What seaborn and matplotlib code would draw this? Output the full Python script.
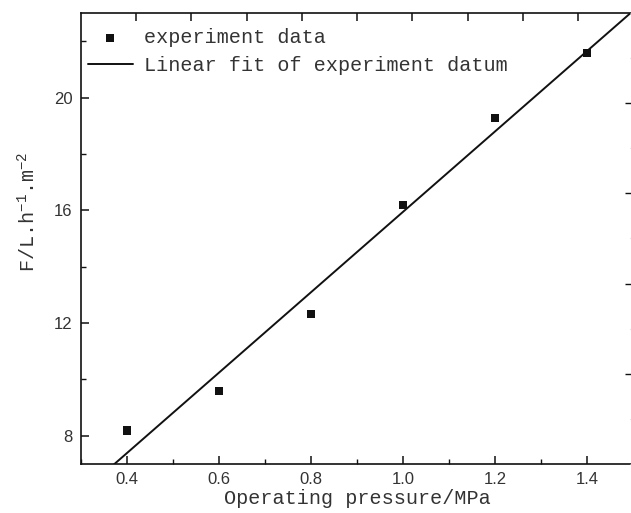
import numpy as np
import pandas as pd
import matplotlib
matplotlib.use("Agg")
import matplotlib.pyplot as plt
from matplotlib.ticker import MultipleLocator
import seaborn as sns

# values
pressure = [0.4, 0.6, 0.8, 1.0, 1.2, 1.4]
flux = [8.19, 9.60, 12.31, 16.18, 19.27, 21.58]

x_label = "Operating pressure/MPa"
y_label = r"F/L.h$^{-1}$.m$^{-2}$"
data_label = "experiment data"
fit_label = "Linear fit of experiment datum"

df = pd.DataFrame({"pressure": pressure, "flux": flux})

sns.set_style("ticks")
plt.rcParams["font.family"] = ["Liberation Mono", "DejaVu Sans Mono"]
plt.rcParams["mathtext.fontset"] = "custom"
plt.rcParams["mathtext.rm"] = "Liberation Mono"
plt.rcParams["mathtext.it"] = "Liberation Mono"
plt.rcParams["mathtext.default"] = "rm"

rect = [0.1284, 0.0955, 0.875, 0.8792]
fig = plt.figure(figsize=(6.31, 5.13), dpi=100)
ax = fig.add_axes(rect)

ax.set_xlim(0.3, 1.5)
ax.set_ylim(7, 23)

sns.scatterplot(data=df, x="pressure", y="flux", marker="s", s=34,
                color="#111111", edgecolor="none", ax=ax, zorder=3)
sns.regplot(data=df, x="pressure", y="flux", scatter=False, ci=None, truncate=False,
            color="#111111", line_kws={"linewidth": 1.4}, ax=ax)
pts = ax.collections[0]
fit_line = ax.lines[-1]

ax.set_xlim(0.3, 1.5)
ax.set_ylim(7, 23)
ax.xaxis.set_minor_locator(MultipleLocator(0.1))
ax.yaxis.set_minor_locator(MultipleLocator(2))
ax.set_yticks([8, 12, 16, 20])
ax.set_xticks([0.4, 0.6, 0.8, 1.0, 1.2, 1.4])
ax.set_xticklabels(["0.4", "0.6", "0.8", "1.0", "1.2", "1.4"])

ax.tick_params(which="major", direction="in", length=6, width=1.1, color="#111111",
               labelsize=12, labelcolor="#333333", pad=6)
ax.tick_params(which="minor", direction="in", length=3.5, width=1.0, color="#111111")
for lab in ax.get_xticklabels() + ax.get_yticklabels():
    lab.set_fontfamily("Liberation Sans")

ax.set_xlabel(x_label, fontsize=14.5, color="#333333", labelpad=1)
ax.set_ylabel(y_label, fontsize=14.5, color="#333333")
ax.yaxis.set_label_coords(-0.076, 0.56)

for side in ["left", "bottom", "top", "right"]:
    ax.spines[side].set_linewidth(1.2)
    ax.spines[side].set_color("#111111")
    ax.spines[side].set_visible(True)

leg = ax.legend([pts, fit_line], [data_label, fit_label],
                loc="upper left", bbox_to_anchor=(0.013, 0.966), frameon=False,
                fontsize=14.5, handlelength=2.2, handletextpad=0.55,
                labelspacing=0.45, borderpad=0, borderaxespad=0, markerscale=1.0)
for t in leg.get_texts():
    t.set_color("#333333")

# extra tick sets on top and right (left over from the original frame),
# drawn on a see-through overlay axes
over = fig.add_axes(rect, frameon=False, zorder=10)
over.patch.set_visible(False)
over.set_xlim(0, 10)
over.set_ylim(0, 5)
over.set_xticks(range(1, 10))
over.set_yticks(range(1, 5))
over.yaxis.set_minor_locator(MultipleLocator(0.5))
over.xaxis.set_ticks_position("top")
over.yaxis.set_ticks_position("right")
over.tick_params(axis="x", which="major", direction="in", length=6, width=1.1,
                 color="#111111", top=True, bottom=False, labeltop=False,
                 labelbottom=False)
over.tick_params(axis="y", which="major", direction="in", length=6, width=1.0,
                 color="#111111", right=True, left=False, labelright=False,
                 labelleft=False)
over.tick_params(axis="y", which="minor", direction="in", length=2, width=0.8,
                 color="#cccccc", right=True, left=False)

fig.savefig("out.png", dpi=100)

# check that the top ticks really came out
img = plt.imread("out.png")
strip = img[16:22, 130:145, :3].mean(axis=2)
if strip.min() > 0.6:
    raise SystemExit("top ticks missing: " + str(np.round(strip.min(axis=0), 2).tolist()))
